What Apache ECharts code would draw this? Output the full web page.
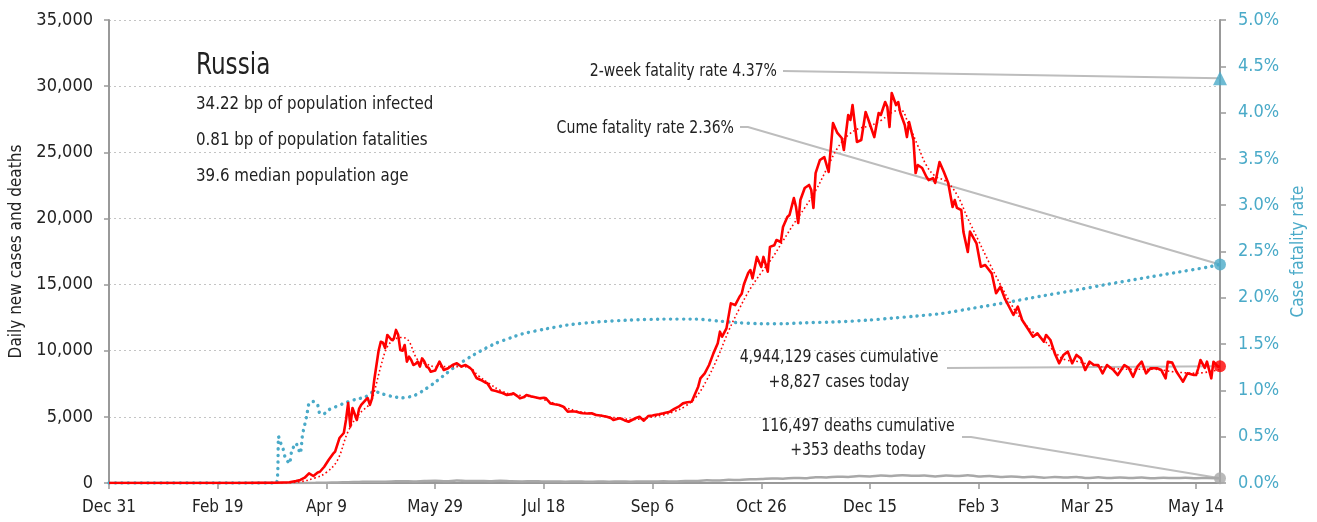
<!DOCTYPE html>
<html>
<head>
<meta charset="utf-8">
<title>Russia – daily cases, deaths and case fatality rate</title>
<script src="https://cdn.jsdelivr.net/npm/echarts@6/dist/echarts.min.js"></script>
<style>
  html, body { margin: 0; padding: 0; background: #fff; }
  #chart { width: 1317px; height: 522px; }
</style>
</head>
<body>
<div id="chart"></div>
<script>
// Day 0 is 31 Dec 2019; x values below are days since then.
const START_DATE = Date.UTC(2019, 11, 31);
const X_TICKS = [0, 50, 100, 150, 200, 250, 300, 350, 400, 450, 500];
const LAST_DAY = 511;

const COUNTRY = 'Russia';
const INFO_LINES = [
  '34.22 bp of population infected',
  '0.81 bp of population fatalities',
  '39.6 median population age'
];
const CASES_CUMULATIVE = 4944129;
const DEATHS_CUMULATIVE = 116497;
const TWO_WEEK_RATE = 4.37;

// Daily new cases [day, cases]
const dailyCases = [
  [0,0],[20,0],[40,0],[60,0],[70,10],[76,20],[80,40],[83,60],[86,150],[88,230],[90,400],[92,730],[94,530],[96,800],[97,850],[99,1230],
  [101,1740],[103,2200],[104,2370],[106,3400],[108,3780],[109,4760],[110,6050],[111,4260],[112,5670],[114,4760],[115,5600],[116,5900],
  [118,6270],[119,6420],[120,5900],[121,6400],[122,7790],[124,10000],[125,10680],[126,10600],[127,10200],[128,11190],[130,10810],
  [131,10900],[132,11570],[133,11200],[134,10050],[135,10000],[136,10430],[137,9170],[138,9550],[139,9300],[140,8920],[141,9000],
  [142,9170],[143,8800],[144,9420],[145,9200],[146,8800],[147,8700],[148,8410],[150,8500],[152,9170],[154,8540],[156,8670],[158,8920],
  [160,9050],[162,8800],[164,8920],[166,8700],[167,8550],[169,7940],[171,7790],[173,7600],[174,7540],[176,7030],[178,6950],[179,6900],
  [181,6800],[183,6650],[185,6720],[186,6780],[188,6550],[189,6400],[191,6500],[192,6650],[194,6550],[195,6520],[197,6450],[198,6400],
  [200,6450],[201,6400],[203,6020],[205,5950],[207,5900],[209,5770],[211,5390],[213,5420],[215,5390],[217,5300],[218,5270],[220,5250],
  [222,5270],[224,5140],[226,5100],[229,5010],[231,4900],[232,4760],[234,4850],[235,4890],[237,4750],[239,4630],[241,4800],[242,4890],
  [244,5010],[246,4710],[248,5060],[250,5100],[251,5140],[253,5200],[255,5270],[257,5350],[258,5390],[260,5600],[262,5770],[264,6020],
  [266,6100],[268,6140],[269,6520],[271,7280],[272,7910],[274,8290],[276,8920],[278,9800],[280,10560],[281,11440],[282,11060],[284,11690],
  [286,13580],[288,13450],[290,14080],[291,14300],[292,15000],[294,15870],[295,16100],[296,15470],[298,17090],[300,16330],[301,17090],
  [303,15970],[304,17850],[306,17970],[307,18370],[309,18220],[310,19350],[312,20110],[313,20260],[315,21540],[316,20860],[317,19650],
  [318,21390],[320,22300],[322,22530],[323,22150],[324,20790],[325,23430],[327,24420],[329,24640],[331,23510],[333,27210],[335,26460],
  [337,26080],[338,25170],[340,27820],[341,27440],[342,28570],[344,25780],[346,25930],[348,28040],[349,27590],[352,26150],[354,27970],
  [355,27820],[357,28800],[358,28420],[359,26910],[360,29480],[362,28570],[363,28800],[364,27970],[366,27060],[367,26150],[368,27290],
  [370,25930],[371,23430],[372,24040],[374,23810],[376,23130],[377,22900],[379,23050],[380,22680],[382,24260],[384,23510],[386,22680],
  [388,20860],[389,21390],[390,20800],[392,20640],[393,18970],[395,17460],[396,19000],[399,18120],[401,16350],[403,16480],[406,15850],
  [408,14340],[410,14840],[412,13960],[416,12700],[418,13330],[420,12320],[423,11570],[425,11060],[427,11310],[430,10680],[431,11190],
  [433,10810],[435,9800],[437,9050],[439,9680],[441,9930],[443,9050],[445,9680],[447,9420],[449,8540],[451,9170],[453,8920],[455,8920],
  [457,8290],[459,8920],[462,8540],[464,8160],[467,8920],[469,8700],[471,8030],[473,8790],[475,9170],[477,8290],[479,8670],[482,8670],
  [484,8540],[486,7910],[487,9170],[489,9100],[491,8410],[493,7910],[494,7660],[496,8290],[499,8160],[500,8160],[501,8670],[502,9300],
  [504,8700],[505,9170],[507,7910],[508,9170],[510,8790],[511,8827]
];

// 7-day average of new cases [day, cases]
const casesAverage = [
  [0,0],[60,0],[80,20],[88,100],[95,400],[100,800],[105,1700],[110,3900],[115,5200],[120,6000],[122,6900],[125,8800],[128,10300],
  [131,10800],[134,11000],[137,10900],[142,9300],[146,9000],[150,8800],[156,8800],[162,8800],[166,8700],[170,8100],[175,7500],
  [180,7000],[185,6700],[190,6600],[195,6500],[200,6300],[205,6000],[210,5700],[215,5450],[220,5300],[225,5150],[230,5000],[235,4900],
  [240,4800],[245,4850],[250,5000],[255,5150],[260,5400],[265,5800],[270,6500],[275,7800],[280,9500],[285,11500],[290,13200],
  [295,14700],[300,15900],[305,17000],[310,18300],[315,19600],[320,20800],[325,22100],[330,23700],[335,25300],[340,26300],[345,26800],
  [350,27000],[355,27400],[360,28000],[364,28200],[368,27000],[372,25500],[376,24000],[380,23200],[385,22800],[390,21800],[395,20000],
  [400,18300],[405,16600],[410,15000],[415,13500],[420,12300],[425,11400],[430,10800],[435,9900],[440,9300],[445,9200],[450,9000],
  [460,8700],[470,8600],[480,8600],[490,8400],[500,8300],[511,8600]
];

// Daily new deaths [day, deaths]
const dailyDeaths = [
  [0,0],[75,0],[85,3],[95,10],[100,20],[105,40],[110,60],[115,80],[120,100],[125,95],[130,110],[135,140],[140,120],[145,150],[150,170],
  [155,140],[160,180],[165,150],[170,160],[175,140],[180,170],[185,130],[190,120],[195,140],[200,110],[205,120],[210,95],[215,120],
  [220,90],[225,110],[230,100],[235,120],[240,95],[245,115],[250,110],[255,130],[260,115],[265,150],[270,160],[275,200],[280,190],
  [285,240],[290,230],[295,280],[300,300],[305,340],[310,330],[315,380],[320,360],[325,440],[330,420],[335,480],[340,460],[345,520],
  [350,500],[355,560],[360,530],[365,590],[370,540],[375,570],[380,500],[385,560],[390,520],[395,580],[400,500],[405,530],[410,460],
  [415,500],[420,430],[425,470],[430,400],[435,450],[440,420],[445,460],[450,380],[455,430],[460,370],[465,420],[470,380],[475,410],
  [480,360],[485,400],[490,370],[495,390],[500,360],[505,380],[511,353]
];

// Cumulative case fatality rate, percent [day, rate]
const fatalityRate = [
  [0,0],[77,0],[78,0.50],[79,0.43],[80,0.375],[81,0.28],[83,0.21],[84,0.34],[86,0.43],[87,0.375],[88,0.32],[89,0.52],[91,0.73],
  [92,0.86],[94,0.88],[96,0.84],[97,0.75],[99,0.75],[101,0.79],[104,0.82],[108,0.86],[113,0.90],[118,0.93],[122,0.99],[126,0.96],
  [131,0.93],[135,0.92],[140,0.94],[144,0.99],[149,1.07],[155,1.18],[160,1.27],[166,1.36],[172,1.44],[178,1.51],[185,1.57],[190,1.61],
  [200,1.66],[212,1.71],[225,1.74],[240,1.76],[255,1.77],[270,1.77],[280,1.75],[290,1.73],[300,1.72],[310,1.72],[320,1.73],[335,1.74],
  [350,1.76],[360,1.78],[370,1.80],[383,1.83],[398,1.89],[413,1.95],[428,2.015],[444,2.08],[459,2.145],[475,2.21],[490,2.27],
  [505,2.33],[511,2.36]
];

const FONT = "'Liberation Sans Narrow', 'DejaVu Sans Condensed', 'Roboto Condensed', sans-serif";
const INK = '#222';
const TEAL = '#4aaac8';
const RED = '#ff0000';
const DEATH_GREY = '#a8a8a8';
const AXIS_GREY = '#999';
const LEADER = '#bdbdbd';
const TICK_SIZE = 17;

const MONTHS = ['Jan','Feb','Mar','Apr','May','Jun','Jul','Aug','Sep','Oct','Nov','Dec'];
function dayLabel(day) {
  const d = new Date(START_DATE + day * 86400000);
  return MONTHS[d.getUTCMonth()] + ' ' + d.getUTCDate();
}
const fmtInt = v => Math.round(v).toLocaleString('en-US');

const lastCase = dailyCases[dailyCases.length - 1];
const lastDeath = dailyDeaths[dailyDeaths.length - 1];
const lastRate = fatalityRate[fatalityRate.length - 1];

const chart = echarts.init(document.getElementById('chart'), null, { renderer: 'canvas' });

chart.setOption({
  animation: false,
  backgroundColor: '#fff',
  textStyle: { fontFamily: FONT },
  grid: { left: 109, right: 97, top: 20, bottom: 39, containLabel: false, outerBoundsMode: 'none' },
  xAxis: {
    type: 'value', min: 0, max: LAST_DAY, interval: 50,
    axisLine: { show: true, onZero: false, lineStyle: { color: AXIS_GREY, width: 2 } },
    axisTick: { show: true, length: 6, customValues: X_TICKS, lineStyle: { color: AXIS_GREY, width: 1.5 } },
    axisLabel: { customValues: X_TICKS, formatter: dayLabel, color: INK, fontSize: TICK_SIZE, fontFamily: FONT, margin: 16 },
    splitLine: { show: false }
  },
  yAxis: [
    {
      type: 'value', min: 0, max: 35000, interval: 5000, position: 'left',
      name: 'Daily new cases and deaths', nameLocation: 'middle', nameGap: 82,
      nameTextStyle: { color: INK, fontSize: TICK_SIZE, fontFamily: FONT },
      axisLine: { show: true, lineStyle: { color: AXIS_GREY, width: 2 } },
      axisTick: { show: true, length: 5, lineStyle: { color: AXIS_GREY, width: 1.5 } },
      axisLabel: { formatter: v => fmtInt(v), color: INK, fontSize: 18, fontFamily: FONT, margin: 16 },
      splitLine: { show: true, lineStyle: { color: '#c4c4c4', type: [2, 3], width: 1.2 } }
    },
    {
      type: 'value', min: 0, max: 5, interval: 0.5, position: 'right',
      name: 'Case fatality rate', nameLocation: 'middle', nameGap: 57,
      nameTextStyle: { color: TEAL, fontSize: TICK_SIZE, fontFamily: FONT },
      axisLine: { show: true, lineStyle: { color: AXIS_GREY, width: 2 } },
      axisTick: { show: true, length: 6, lineStyle: { color: AXIS_GREY, width: 1.5 } },
      axisLabel: { formatter: v => v.toFixed(1) + '%', color: TEAL, fontSize: 18, fontFamily: FONT, margin: 18 },
      splitLine: { show: false }
    }
  ],
  series: [
    {
      name: 'Daily deaths', type: 'line', data: dailyDeaths, showSymbol: false, smooth: 0.3,
      lineStyle: { color: DEATH_GREY, width: 2.5 }, z: 3
    },
    {
      name: 'Case fatality rate', type: 'line', yAxisIndex: 1, data: fatalityRate, showSymbol: false, smooth: 0.2,
      lineStyle: { color: TEAL, width: 3.4, type: [0.1, 6.4], cap: 'round' }, z: 4
    },
    {
      name: 'Cases 7-day average', type: 'line', data: casesAverage, showSymbol: false, smooth: 0.4,
      lineStyle: { color: RED, width: 1.6, type: [1.6, 2.6] }, z: 5
    },
    {
      name: 'Daily cases', type: 'line', data: dailyCases, showSymbol: false,
      lineStyle: { color: RED, width: 2.6, join: 'round' }, z: 6
    },
    {
      name: 'Latest', type: 'scatter', symbol: 'circle', symbolSize: 12, z: 8,
      data: [
        { value: lastCase, itemStyle: { color: RED } },
        { value: lastDeath, itemStyle: { color: DEATH_GREY } }
      ]
    },
    {
      name: 'Latest rates', type: 'scatter', yAxisIndex: 1, z: 8,
      data: [
        { value: lastRate, symbol: 'circle', symbolSize: 12, itemStyle: { color: TEAL } },
        { value: [LAST_DAY, TWO_WEEK_RATE], symbol: 'triangle', symbolSize: 14, itemStyle: { color: TEAL } }
      ]
    }
  ]
});

// Annotation texts and leader lines to the latest points
const px = (yIdx, pt) => chart.convertToPixel({ xAxisIndex: 0, yAxisIndex: yIdx }, pt);
const pCase = px(0, lastCase);
const pDeath = px(0, lastDeath);
const pRate = px(1, lastRate);
const pTwoWeek = px(1, [LAST_DAY, TWO_WEEK_RATE]);

// Condensed lettering: a slightly larger size squeezed horizontally
const txt = (x, y, text, size, squeeze, align) => ({
  type: 'text', x: x, y: y, z: 10, scaleX: squeeze,
  style: { text: text, fill: INK, font: size + 'px ' + FONT, textAlign: align || 'left', textVerticalAlign: 'middle' }
});
const leader = pts => ({
  type: 'polyline', z: 1, silent: true,
  shape: { points: pts },
  style: { stroke: LEADER, lineWidth: 2, fill: null }
});

chart.setOption({
  graphic: [
    txt(196, 66, COUNTRY, 31, 0.83),
    txt(196, 104, INFO_LINES[0], 18, 0.93),
    txt(196, 140, INFO_LINES[1], 18, 0.93),
    txt(196, 176, INFO_LINES[2], 18, 0.93),

    txt(777, 71, '2-week fatality rate ' + TWO_WEEK_RATE.toFixed(2) + '%', 18, 0.87, 'right'),
    leader([[783, 71], pTwoWeek]),

    txt(734, 128, 'Cume fatality rate ' + lastRate[1].toFixed(2) + '%', 18, 0.87, 'right'),
    leader([[740, 127], [748, 127], pRate]),

    txt(839, 357, fmtInt(CASES_CUMULATIVE) + ' cases cumulative', 18, 0.87, 'center'),
    txt(839, 382, '+' + fmtInt(lastCase[1]) + ' cases today', 18, 0.87, 'center'),
    leader([[947, 368], pCase]),

    txt(858, 426, fmtInt(DEATHS_CUMULATIVE) + ' deaths cumulative', 18, 0.87, 'center'),
    txt(858, 450, '+' + fmtInt(lastDeath[1]) + ' deaths today', 18, 0.87, 'center'),
    leader([[962, 437], [971, 437], pDeath])
  ]
});
</script>
</body>
</html>
